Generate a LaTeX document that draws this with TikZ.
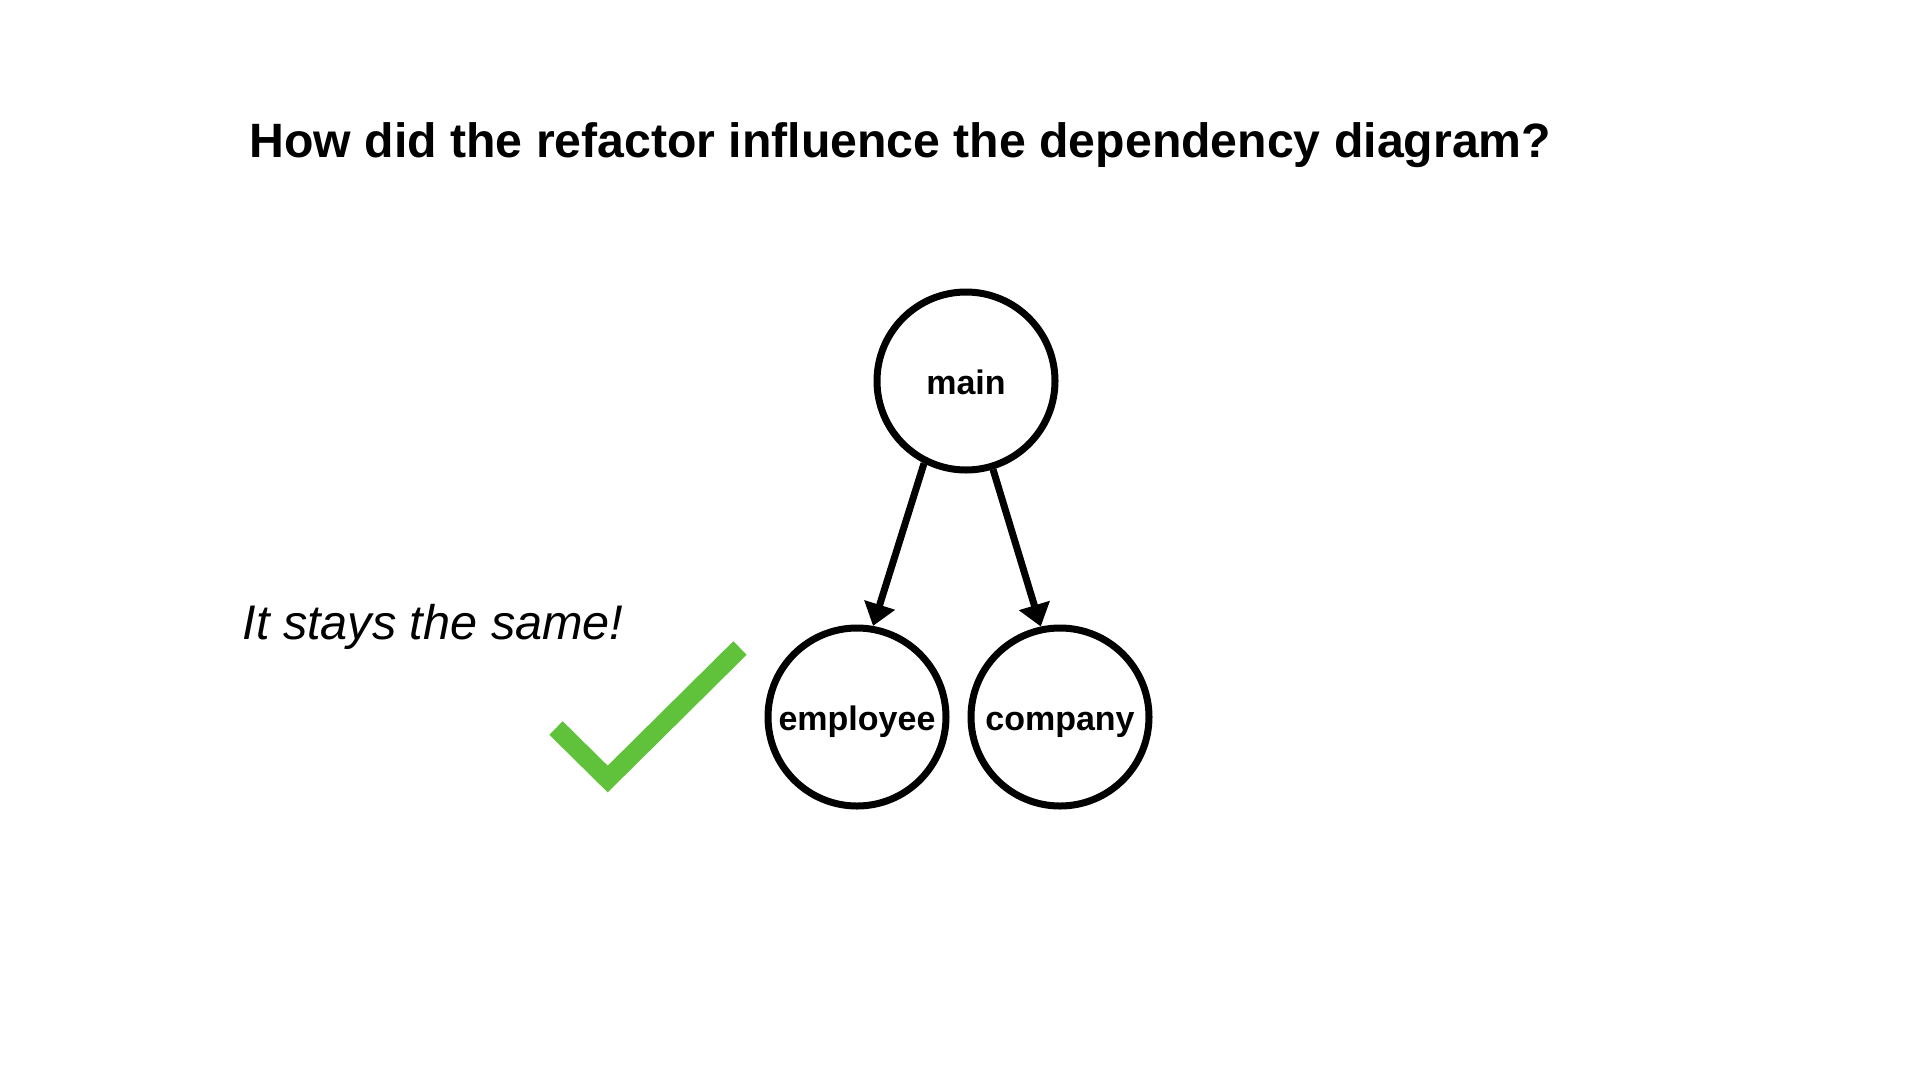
\documentclass[tikz,border=0pt]{standalone}
\usepackage{fontspec}
\setmainfont{Liberation Sans}
\usetikzlibrary{arrows.meta,calc}
\usepackage{tkz-euclide}
\definecolor{CheckClr}{RGB}{96,193,59}

\tikzset{
  pkg/.style={circle,draw=black,line width=7pt,minimum size=178pt,inner sep=0pt,
    text height=33pt,text depth=7pt,font=\fontsize{34}{40}\selectfont\bfseries},
  dep/.style={line width=7pt,-{Triangle[length=22pt,width=31pt]}},
}

\begin{document}
\begin{tikzpicture}[x=1pt,y=-1pt]
\useasboundingbox (0,0) rectangle (1920,1080);

\node[anchor=base west,font=\fontsize{48.2}{58}\selectfont\bfseries] (title) at (246,157)
  {How did the refactor influence the dependency diagram?};

\node[pkg] (main) at (966,381) {main};
\node[pkg] (employee) at (857,717) {employee};
\node[pkg] (company) at (1060,717) {company};

\draw[dep] (main.243) -- (employee.80);
\draw[dep] (main.287) -- (company.102);

\node[anchor=base west,font=\fontsize{48.6}{58}\selectfont\itshape] (same) at (239,639)
  {It stays the same!};

% check mark
\tkzDefPoints{556/728/L,607.7/779/V,740/648/R}
\tkzDrawPolySeg[line width=19pt,line cap=butt,line join=miter,color=CheckClr](L,V,R)

\end{tikzpicture}
\end{document}
